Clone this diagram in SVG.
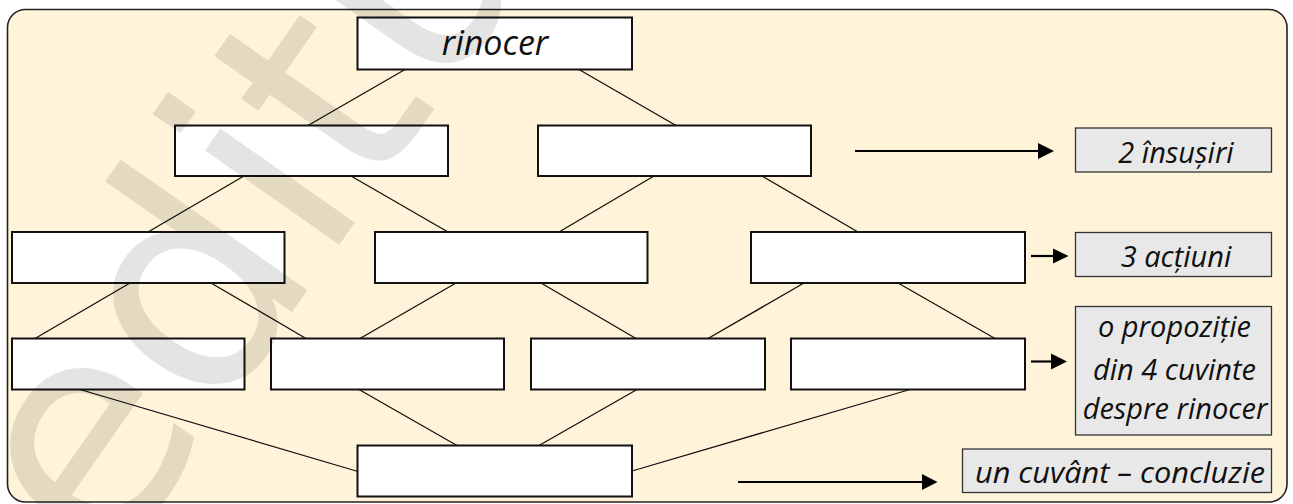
<svg xmlns="http://www.w3.org/2000/svg" width="1293" height="504" viewBox="0 0 1293 504">
<style>
.frame{fill:#fff4d9;stroke:#222;stroke-width:1.6}
.box{fill:#fff;stroke:#111;stroke-width:2}
.lab{fill:#e8e8e8;stroke:#333;stroke-width:1.3}
.con line{stroke:#111;stroke-width:1.3}
.arr line{stroke:#000;stroke-width:2.2}
.arr polygon{fill:#000}
.t{font-family:"Open Sans","DejaVu Sans",sans-serif;font-style:italic;font-size:29px;fill:#111;text-anchor:middle}
.wm{font-family:"DejaVu Sans",sans-serif;font-size:300px;fill:#000;fill-opacity:0.105}
</style>
<rect width="1293" height="504" fill="#fff"/>
<rect class="frame" x="7.5" y="9.5" width="1279.5" height="492.5" rx="18"/>
<g id="connectors" class="con">
<line x1="405" y1="69.5" x2="308" y2="125.5"/>
<line x1="579" y1="69.5" x2="676" y2="125.5"/>
<line x1="244" y1="176" x2="148" y2="232"/>
<line x1="351" y1="176" x2="448" y2="232"/>
<line x1="654" y1="176" x2="559" y2="232"/>
<line x1="762" y1="176" x2="858" y2="232"/>
<line x1="130" y1="283" x2="35" y2="338.5"/>
<line x1="211" y1="283" x2="306" y2="338.5"/>
<line x1="456" y1="283" x2="360" y2="338.5"/>
<line x1="541" y1="283" x2="636" y2="338.5"/>
<line x1="804" y1="283" x2="708" y2="338.5"/>
<line x1="898" y1="283" x2="995" y2="338.5"/>
<line x1="80" y1="389.5" x2="358" y2="471.5"/>
<line x1="359" y1="389.5" x2="457" y2="445.5"/>
<line x1="637" y1="389.5" x2="539" y2="445.5"/>
<line x1="910" y1="389.5" x2="632" y2="471"/>
</g>
<g id="arrows" class="arr">
<line x1="855" y1="151" x2="1039" y2="151"/><polygon points="1038,143 1054,151 1038,159"/>
<line x1="1031" y1="256" x2="1054" y2="256"/><polygon points="1053,248.5 1068.5,256 1053,263.5"/>
<line x1="1031" y1="361.5" x2="1052" y2="361.5"/><polygon points="1051,353.5 1067,361.5 1051,369.5"/>
<line x1="738" y1="482" x2="923" y2="482"/><polygon points="922,474 937.5,482 922,490"/>
</g>
<g id="n-rinocer"><rect class="box" x="357.5" y="17.5" width="274.5" height="52"/><text class="t" x="495" y="55" style="font-size:34px">rinocer</text></g>
<g id="n-r2a"><rect class="box" x="175" y="125.5" width="273" height="50.5"/></g>
<g id="n-r2b"><rect class="box" x="538" y="125.5" width="273" height="50.5"/></g>
<g id="n-r3a"><rect class="box" x="12" y="232" width="272.5" height="51"/></g>
<g id="n-r3b"><rect class="box" x="375" y="232" width="272.5" height="51"/></g>
<g id="n-r3c"><rect class="box" x="751" y="232" width="274" height="51"/></g>
<g id="n-r4a"><rect class="box" x="12" y="338.5" width="232.5" height="51"/></g>
<g id="n-r4b"><rect class="box" x="271" y="338.5" width="233" height="51"/></g>
<g id="n-r4c"><rect class="box" x="531" y="338.5" width="234" height="51"/></g>
<g id="n-r4d"><rect class="box" x="791" y="338.5" width="234" height="51"/></g>
<g id="n-bottom"><rect class="box" x="357.5" y="445.5" width="274.5" height="51"/></g>
<g id="l-insusiri"><rect class="lab" x="1075.5" y="128" width="196" height="44"/><text class="t" x="1176" y="162.5">2 însușiri</text></g>
<g id="l-actiuni"><rect class="lab" x="1075.5" y="232.5" width="196" height="44"/><text class="t" x="1176" y="266.5">3 acțiuni</text></g>
<g id="l-propozitie"><rect class="lab" x="1075.5" y="306.5" width="196" height="128.5"/><text class="t" x="1174.5" y="337">o propoziție</text><text class="t" x="1174.5" y="380">din 4 cuvinte</text><text class="t" x="1175" y="418.5">despre rinocer</text></g>
<g id="l-concluzie"><rect class="lab" x="962.5" y="449" width="309" height="43.5"/><text class="t" x="1120" y="483" textLength="290" lengthAdjust="spacingAndGlyphs">un cuvânt – concluzie</text></g>
<text class="wm" transform="translate(108,575) rotate(-55)">editura</text>
</svg>
